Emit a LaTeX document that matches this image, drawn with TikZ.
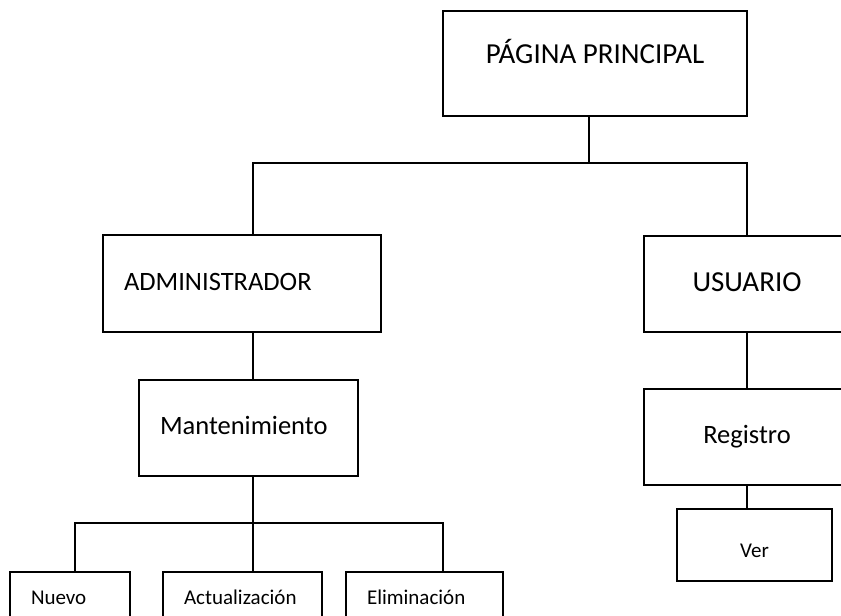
\documentclass[tikz,border=0pt]{standalone}
\usepackage{fontspec}
\setmainfont{Carlito}
\usepackage{tikz}
\usetikzlibrary{positioning}
\tikzset{box/.style={draw, line width=1.7pt, inner sep=0pt, text height=13pt, text depth=0pt}}
\tikzset{lbox/.style={box, align=left, inner xsep=21pt}}
\tikzset{big/.style={font=\fontsize{29}{34}\selectfont}}
\tikzset{mid/.style={font=\fontsize{26.5}{31}\selectfont}}
\tikzset{small/.style={font=\fontsize{21}{25}\selectfont, text height=9pt}}

\begin{document}
\begin{tikzpicture}[x=1pt, y=-1pt, line width=1.7pt]
  \useasboundingbox (0,0) rectangle (841,616);
  \clip (0,0) rectangle (841,616);
  \node(pag) [box, big, minimum width=304pt, minimum height=105pt, text height=6.5pt, text depth=6pt] at (595,63.5) {PÁGINA PRINCIPAL};
  \node(admin) [lbox, mid, text width=236pt, minimum height=97pt] at (242,283.5) {ADMINISTRADOR};
  \node(usu) [box, big, minimum width=206pt, minimum height=96pt, text height=15pt] at (747,284) {USUARIO};
  \node(mant) [lbox, mid, text width=177pt, minimum height=96pt] at (248.5,428) {Mantenimiento};
  \node(reg) [box, mid, minimum width=206pt, minimum height=96pt] at (747,437) {Registro};
  \node(ver) [box, small, minimum width=155pt, minimum height=72pt, text height=25pt] at (754.5,545) {Ver};
  \node(nuevo) [lbox, small, text width=78pt, minimum height=56pt] at (70,600) {Nuevo};
  \node(act) [lbox, small, text width=117pt, minimum height=56pt] at (242.5,600) {Actualización};
  \node(elim) [lbox, small, text width=115pt, minimum height=56pt] at (424.5,600) {Eliminación};
  \coordinate(jp) at (589,163);
  \coordinate(ja) at (253,163);
  \coordinate(ju) at (747,163);
  \coordinate(jm) at (253,523);
  \coordinate(jn) at (75,523);
  \coordinate(je) at (443,523);
  \draw
   (pag.south -| jp) -- (jp)
   (ja |- admin.north) -- (ja) -- (ju) -- (usu.north)
   (ja |- admin.south) -- (ja |- mant.north)
   (usu.south) -- (reg.north)
   (reg.south) -- (reg.south |- ver.north)
   (jm |- mant.south) -- (jm)
   (jn |- nuevo.north) -- (jn) -- (je) -- (je |- elim.north)
   (jm) -- (jm |- act.north);
\end{tikzpicture}
\end{document}
